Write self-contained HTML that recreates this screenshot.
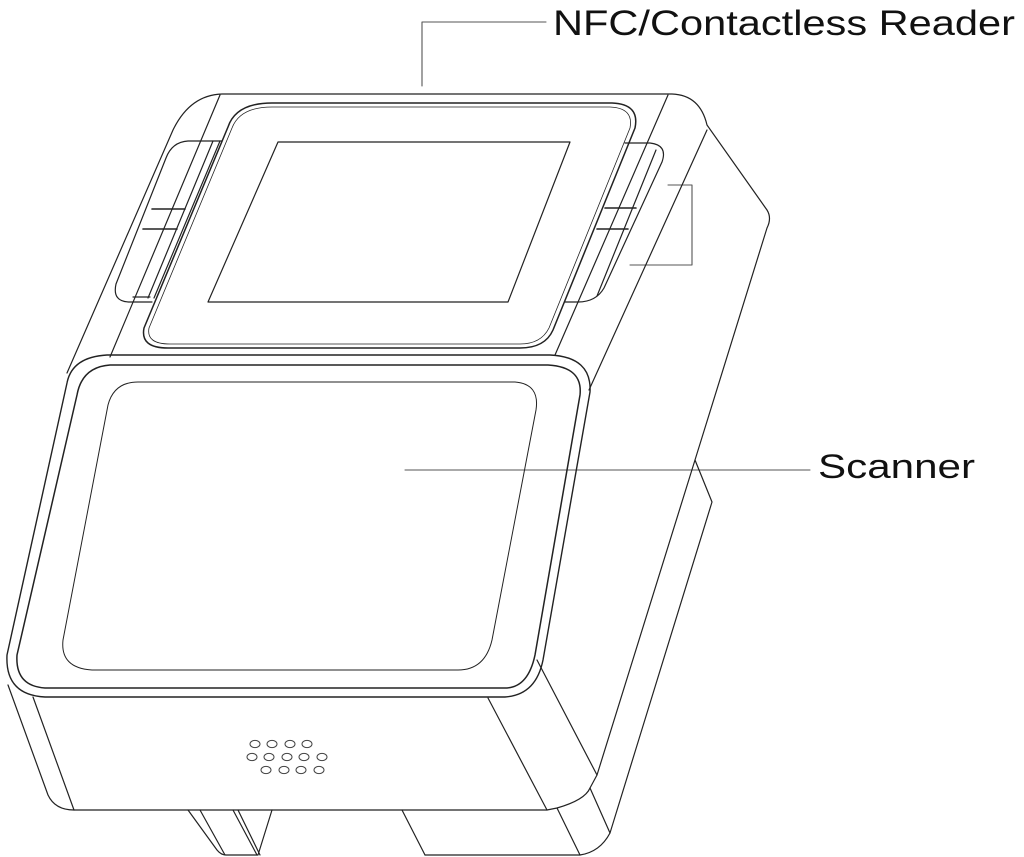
<!DOCTYPE html>
<html><head><meta charset="utf-8"><style>
html,body{margin:0;padding:0;background:#fff;}
svg{display:block;}
text{font-family:"Liberation Sans",sans-serif;fill:#111;}
</style></head><body>
<svg width="1024" height="857" viewBox="0 0 1024 857" xmlns="http://www.w3.org/2000/svg">
<g fill="none" stroke="#222" stroke-width="1.2" stroke-linejoin="round" stroke-linecap="round">
<path d="M422 86 L422 22 L546 22" stroke="#555" stroke-width="1.1"/>
<path d="M405 470 L810 470" stroke="#555" stroke-width="1.1"/>
<path d="M668 185 L692 185 L692 265 L630 265" stroke="#555" stroke-width="1.1"/>
<path d="M67 373 L173 130 Q190 95 222 94 L672 94 Q700 95 707 125 L767 210 Q772 218 767 228 L695 460 L712 502 L610 833 Q600 852 580 855 L425 855"/>
<path d="M220 95 L110 357"/>
<path d="M707 130 L589 390"/>
<path d="M668 95 L555 355"/>
<path d="M695 460 L597 775"/>
<path d="M272 103 L612 103 Q640 104 635 128 L553 330 Q545 348 520 348 L168 348 Q140 348 144 328 L228 127 Q236 103 272 103 Z" stroke-width="1.5"/>
<path d="M272 107 L610 107 Q634 108 630 128 L549 328 Q541 344 520 344 L170 344 Q146 344 149 328 L232 128 Q240 107 272 107 Z" stroke-width="0.8"/>
<path d="M278 142 L570 142 L508 302 L208 302 Z"/>
<path d="M222 141 L188 141 Q172 142 166 158 L116 284 Q112 302 130 302 L152 302"/>
<path d="M213 141 L148 298 M220 141 L154 298"/>
<path d="M152 209 L185 209 M143 229 L177 229" stroke-width="1.6"/>
<path d="M133 297 L150 297"/>
<path d="M625 143 L650 143 Q668 145 662 162 L604 288 Q596 302 578 302 L565 302"/>
<path d="M656 150 L597 296"/>
<path d="M605 208 L636 208 M597 229 L628 229" stroke-width="1.6"/>
<path d="M107 355 L550 355 Q592 357 590 392 L543 660 Q536 695 505 697 L45 697 Q5 695 7 655 L67 383 Q72 357 107 355 Z" stroke-width="1.4"/>
<path d="M110 365 L548 365 Q583 367 580 395 L535 655 Q528 688 505 688 L45 688 Q15 686 17 655 L77 395 Q82 367 110 365 Z" stroke-width="1.5"/>
<path d="M138 382 L515 382 Q540 384 536 410 L492 640 Q485 670 458 670 L92 670 Q60 668 63 640 L108 405 Q114 382 138 382 Z" stroke-width="1"/>
<path d="M8 685 L48 795 Q55 810 74 810 L547 810 L557 808 Q585 800 590 788 L597 775 L537 660"/>
<path d="M33 697 L74 810"/>
<path d="M488 698 L547 810"/>
<path d="M557 808 L580 855 M590 788 L610 833"/>
<path d="M188 810 L217 850 Q221 855 226 855 L258 855 L272 810"/>
<path d="M200 810 L225 855 M233 810 L257 855 M238 810 L260 855"/>
<path d="M402 810 L425 855"/>
</g>
<g fill="none" stroke="#444" stroke-width="1">
<ellipse cx="255" cy="744" rx="5" ry="3.6"/><ellipse cx="272" cy="744" rx="5" ry="3.6"/><ellipse cx="290" cy="744" rx="5" ry="3.6"/><ellipse cx="307" cy="744" rx="5" ry="3.6"/>
<ellipse cx="252" cy="757" rx="5" ry="3.6"/><ellipse cx="269" cy="757" rx="5" ry="3.6"/><ellipse cx="287" cy="757" rx="5" ry="3.6"/><ellipse cx="304" cy="757" rx="5" ry="3.6"/><ellipse cx="322" cy="757" rx="5" ry="3.6"/>
<ellipse cx="266" cy="770" rx="5" ry="3.6"/><ellipse cx="284" cy="770" rx="5" ry="3.6"/><ellipse cx="301" cy="770" rx="5" ry="3.6"/><ellipse cx="319" cy="770" rx="5" ry="3.6"/>
</g>
<text x="553" y="35" font-size="35" textLength="462" lengthAdjust="spacingAndGlyphs">NFC/Contactless Reader</text>
<text x="818" y="478" font-size="34" textLength="157" lengthAdjust="spacingAndGlyphs">Scanner</text>
</svg>
</body></html>
